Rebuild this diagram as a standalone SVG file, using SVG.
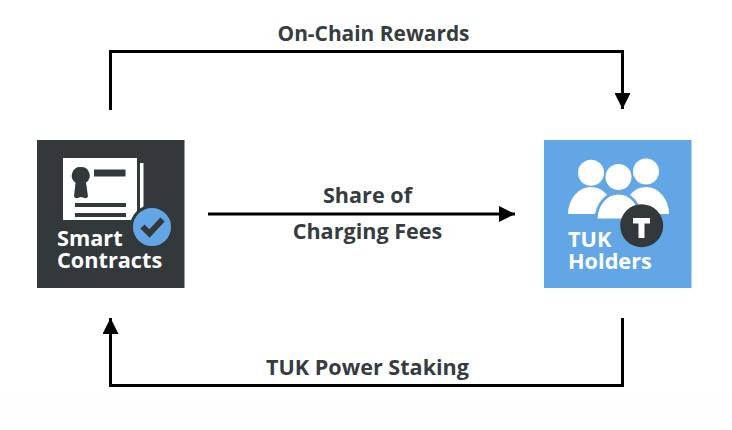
<svg xmlns="http://www.w3.org/2000/svg" width="732" height="430" viewBox="0 0 732 430">
<style>
text{font-family:"Open Sans","Noto Sans","Liberation Sans",sans-serif;font-weight:700}
.lbl{fill:#363c3f;font-size:21.600px;text-anchor:middle}
.ico{fill:#fff;font-size:21.700px}
.c{fill:none;stroke:#000;stroke-width:3}
.d{fill:#33393b}
.w{fill:#fff}
</style>
<defs>
<marker id="ah" markerUnits="userSpaceOnUse" markerWidth="18" markerHeight="16" refX="16" refY="8" orient="auto">
<path d="M0 0L16 8L0 16Z" fill="#000"/>
</marker>
</defs>
<rect width="732" height="393" fill="#fff"/>
<rect y="393" width="732" height="37" fill="#fefefe"/>
<g id="connectors">
<path class="c" d="M110.500 110V51.500H622.500V109" marker-end="url(#ah)"/>
<path class="c" d="M208 214H515" marker-end="url(#ah)"/>
<path class="c" d="M622.500 318V385.500H110.500V318" marker-end="url(#ah)"/>
</g>
<g id="smart-contracts">
<rect class="d" x="37" y="140" width="147.500" height="148"/>
<rect class="w" x="63" y="158" width="74" height="62"/>
<rect class="w" x="140" y="163" width="3.500" height="61"/>
<path class="d" d="M81 167a8.500 8.500 0 0 1 5 15.500l2 14a3 3 0 0 1-3.500 1.500l-3.500-1-3.500 1a3 3 0 0 1-3.500-1.500l1.500-14a8.500 8.500 0 0 1 5.500-15.500Z"/>
<rect class="d" x="94" y="169.500" width="31.500" height="7"/>
<rect class="d" x="75" y="203" width="51" height="4"/>
<rect class="d" x="75" y="213" width="51" height="4"/>
<circle cx="152" cy="227" r="20.500" fill="#63a6e5" stroke="#33393b" stroke-width="3"/>
<path d="M142.500 226.500l7 7 13-14" fill="none" stroke="#33393b" stroke-width="6"/>
<text class="ico" x="57"><tspan x="57" y="246">Smart</tspan><tspan x="57" y="268">Contracts</tspan></text>
</g>
<g id="tuk-holders">
<rect x="544" y="140" width="147.500" height="148" fill="#63a6e5"/>
<circle class="w" cx="591" cy="172.700" r="13"/>
<circle class="w" cx="618.500" cy="177" r="13"/>
<circle class="w" cx="646" cy="171.500" r="13"/>
<path class="w" d="M568 214A23 27 0 0 1 614 214Z"/>
<path class="w" d="M623 214A23 27 0 0 1 669 214Z"/>
<path class="w" d="M596 220A22.500 27 0 0 1 641 220Z" stroke="#63a6e5" stroke-width="3"/>
<circle class="d" cx="641.700" cy="225.700" r="21.500"/>
<path class="w" d="M633 218H650V223.500H644.500V238H638.500V223.500H633Z"/>
<text class="ico" x="568"><tspan x="568" y="247">TUK</tspan><tspan x="568" y="269">Holders</tspan></text>
</g>
<text class="lbl" x="373.500" y="41" style="font-size:20.900px">On-Chain Rewards</text>
<text class="lbl" x="367.500" y="203">Share of</text>
<text class="lbl" x="367.500" y="239">Charging Fees</text>
<text class="lbl" x="367.500" y="375">TUK Power Staking</text>
</svg>
